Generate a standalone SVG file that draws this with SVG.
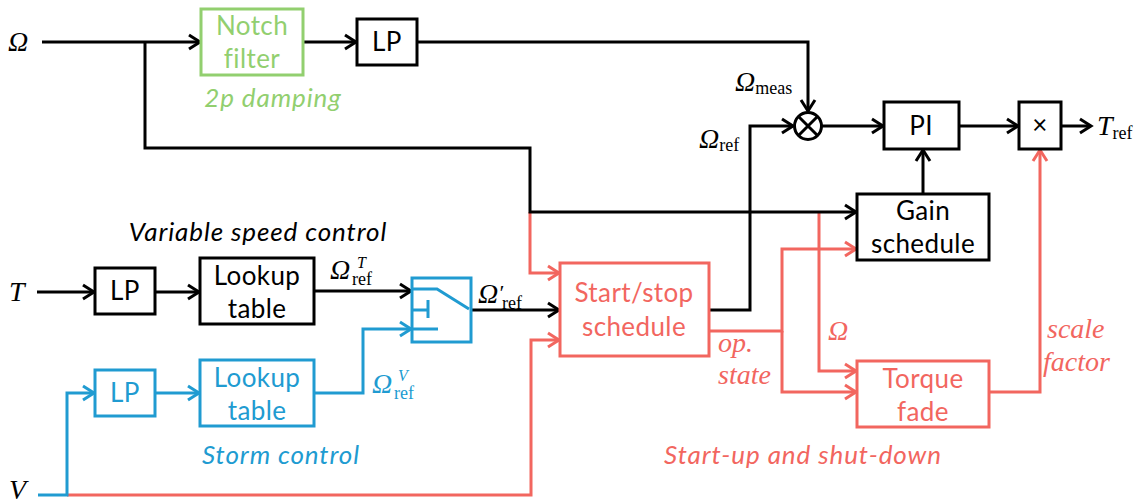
<svg xmlns="http://www.w3.org/2000/svg" width="1144" height="503" viewBox="0 0 1144 503">
<style>
.box{fill:#fff;stroke-width:3}
.k{stroke:#000}
.g{stroke:#92cf6f}
.b{stroke:#209bd1}
.r{stroke:#f2665f}
.ln{fill:none;stroke-width:3;stroke-linejoin:miter}
.t{font-family:Lato,"Liberation Sans",sans-serif;font-size:26px;letter-spacing:0.4px;text-anchor:middle}
.it{font-family:Lato,"Liberation Sans",sans-serif;font-size:26px;letter-spacing:0.9px;font-style:italic;text-anchor:middle}
.m{font-family:"Liberation Serif",serif;font-style:italic;font-size:28px}
.s{font-family:"Liberation Serif",serif;font-size:18px;font-style:normal}
.sup{font-family:"Liberation Serif",serif;font-size:16px;font-style:italic}
.ms{font-family:"Liberation Serif",serif;font-style:italic;font-size:28px}
.tk{fill:#000}.tg{fill:#92cf6f}.tb{fill:#209bd1}.tr{fill:#f2665f}
</style>
<defs>
<marker id="ak" markerUnits="userSpaceOnUse" markerWidth="16" markerHeight="20" refX="13" refY="8" orient="auto" viewBox="0 0 16 16"><path d="M2,1 L13,8 L2,15" fill="none" stroke="#000" stroke-width="3"/></marker>
<marker id="ab" markerUnits="userSpaceOnUse" markerWidth="16" markerHeight="20" refX="13" refY="8" orient="auto" viewBox="0 0 16 16"><path d="M2,1 L13,8 L2,15" fill="none" stroke="#209bd1" stroke-width="3"/></marker>
<marker id="ar" markerUnits="userSpaceOnUse" markerWidth="16" markerHeight="20" refX="13" refY="8" orient="auto" viewBox="0 0 16 16"><path d="M2,1 L13,8 L2,15" fill="none" stroke="#f2665f" stroke-width="3"/></marker>
</defs>
<rect width="1144" height="503" fill="#fff"/>
<g id="connectors">
<path class="ln k" d="M42,42 H200" marker-end="url(#ak)"/>
<path class="ln k" d="M303,42 H356" marker-end="url(#ak)"/>
<path class="ln k" d="M417,42 H808 V111" marker-end="url(#ak)"/>
<path class="ln r" d="M530,212 V273 H559" marker-end="url(#ar)"/>
<path class="ln r" d="M67,495 H531 V340 H559" marker-end="url(#ar)"/>
<path class="ln r" d="M709,331 H782 V249 H856" marker-end="url(#ar)"/>
<path class="ln r" d="M782,331 V392 H856" marker-end="url(#ar)"/>
<path class="ln r" d="M819,212 V371 H856" marker-end="url(#ar)"/>
<path class="ln r" d="M989,392 H1040 V150" marker-end="url(#ar)"/>
<path class="ln k" d="M145,42 V148 H530 V212 H856" marker-end="url(#ak)"/>
<path class="ln k" d="M822,126 H883" marker-end="url(#ak)"/>
<path class="ln k" d="M959,126 H1018" marker-end="url(#ak)"/>
<path class="ln k" d="M1061,126 H1091" marker-end="url(#ak)"/>
<path class="ln k" d="M923,194 V150" marker-end="url(#ak)"/>
<path class="ln k" d="M709,310 H750 V126 H793" marker-end="url(#ak)"/>
<path class="ln k" d="M37,292 H94" marker-end="url(#ak)"/>
<path class="ln k" d="M155,292 H199" marker-end="url(#ak)"/>
<path class="ln k" d="M314,291 H411" marker-end="url(#ak)"/>
<path class="ln k" d="M471,310 H559" marker-end="url(#ak)"/>
<path class="ln b" d="M38,495 H67 V393 H94" marker-end="url(#ab)"/>
<path class="ln b" d="M155,393 H199" marker-end="url(#ab)"/>
<path class="ln b" d="M314,393 H363 V329 H411" marker-end="url(#ab)"/>
</g>
<g id="notch">
<rect class="box g" x="201" y="9" width="102" height="66"/>
<text class="t tg" x="252" y="35">Notch</text>
<text class="t tg" x="252" y="68">filter</text>
<text class="it tg" x="273" y="107">2p damping</text>
</g>
<g id="lp1">
<rect class="box k" x="357" y="19" width="60" height="46"/>
<text class="t tk" x="387" y="51">LP</text>
</g>
<g id="sum">
<circle cx="808" cy="126" r="13.5" fill="#fff" stroke="#000" stroke-width="3"/>
<path d="M798.5,116.5 L817.5,135.5 M817.5,116.5 L798.5,135.5" stroke="#000" stroke-width="3"/>
</g>
<g id="pi">
<rect class="box k" x="884" y="102" width="75" height="47"/>
<text class="t tk" x="921" y="135">PI</text>
</g>
<g id="mult">
<rect class="box k" x="1019" y="102" width="42" height="47"/>
<text class="t tk" x="1040" y="134">×</text>
</g>
<g id="gain">
<rect class="box k" x="857" y="194" width="132" height="66"/>
<text class="t tk" x="923" y="220">Gain</text>
<text class="t tk" x="923" y="253">schedule</text>
</g>
<g id="torque">
<rect class="box r" x="857" y="361" width="132" height="66"/>
<text class="t tr" x="923" y="388">Torque</text>
<text class="t tr" x="923" y="421">fade</text>
</g>
<g id="startstop">
<rect class="box r" x="560" y="263" width="149" height="93"/>
<text class="t tr" x="634" y="302">Start/stop</text>
<text class="t tr" x="634" y="336">schedule</text>
</g>
<g id="lpT">
<rect class="box k" x="95" y="268" width="60" height="46"/>
<text class="t tk" x="125" y="300">LP</text>
</g>
<g id="lookupT">
<rect class="box k" x="200" y="258" width="114" height="66"/>
<text class="t tk" x="257" y="285">Lookup</text>
<text class="t tk" x="257" y="318">table</text>
</g>
<g id="switch">
<rect class="box b" x="412" y="278" width="59" height="64"/>
<path class="ln b" d="M413,289 H437 L469,309 M413,310 H428 M428,300 V318 M413,329 H438"/>
</g>
<g id="lpV">
<rect class="box b" x="95" y="370" width="60" height="46"/>
<text class="t tb" x="125" y="402">LP</text>
</g>
<g id="lookupV">
<rect class="box b" x="200" y="360" width="114" height="66"/>
<text class="t tb" x="257" y="387">Lookup</text>
<text class="t tb" x="257" y="420">table</text>
</g>
<g id="labels">
<text class="it tk" x="258" y="241">Variable speed control</text>
<text class="it tb" x="281" y="464">Storm control</text>
<text class="it tr" x="803" y="464">Start-up and shut-down</text>
<text class="m tk" x="8" y="51">Ω</text>
<text class="m tk" x="9" y="301">T</text>
<text class="m tk" x="9" y="499">V</text>
<text class="m tk" x="735" y="91">Ω<tspan class="s" dy="3">meas</tspan></text>
<text class="m tk" x="699" y="148">Ω<tspan class="s" dy="3">ref</tspan></text>
<text class="m tk" x="1097" y="135">T<tspan class="s" dy="4">ref</tspan></text>
<text class="m tk" x="330" y="279">Ω</text>
<text class="s tk" x="352" y="285">ref</text>
<text class="sup tk" x="357" y="268">T</text>
<text class="m tk" x="478" y="303">Ω<tspan font-size="22" dy="-3">′</tspan><tspan class="s" x="502" dy="9">ref</tspan></text>
<text class="m tb" x="372" y="393">Ω</text>
<text class="s tb" x="394" y="399">ref</text>
<text class="sup tb" x="398" y="381">V</text>
<text class="ms tr" x="718" y="352">op.</text>
<text class="ms tr" x="718" y="384">state</text>
<text class="ms tr" x="828" y="340">Ω</text>
<text class="ms tr" x="1047" y="338">scale</text>
<text class="ms tr" x="1043" y="371">factor</text>
</g>
</svg>
